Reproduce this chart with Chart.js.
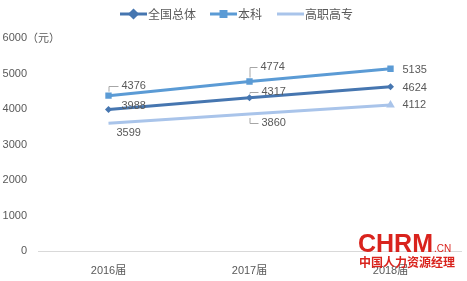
<!DOCTYPE html>
<html lang="zh">
<head>
<meta charset="UTF-8">
<title>月收入</title>
<script src="https://cdn.jsdelivr.net/npm/chart.js"></script>
<style>
    html, body { margin: 0; padding: 0; background: #fff; }
    #wrap { width: 467px; height: 281px; position: relative; }
</style>
</head>
<body>
<div id="wrap"><canvas id="lineChart"></canvas></div>
<script>
// data
const years = ['2016届', '2017届', '2018届'];
const overall = [3988, 4317, 4624];
const bachelor = [4376, 4774, 5135];
const vocational = [3599, 3860, 4112];
const yTicks = [0, 1000, 2000, 3000, 4000, 5000, 6000];

const FONT = '"Liberation Sans", "Noto Sans CJK SC", sans-serif';
const TEXT = '#595959';
const colors = ['#4676B0', '#5B9BD5', '#A9C4EA'];

// label offsets per dataset / point: [dx, dy, leader]
const labelPos = [
    [[13, -3, false], [12, -6, true], [12, 1, false]],
    [[13, -10, true], [11, -15, true], [12, 1, false]],
    [[8, 10, false], [12, 9, true], [12, 0, false]]
];

const labelPlugin = {
    id: 'labels',
    afterDatasetsDraw(chart) {
        const ctx = chart.ctx;
        ctx.save();
        ctx.font = '11px ' + FONT;
        ctx.fillStyle = TEXT;
        ctx.textBaseline = 'middle';
        chart.data.datasets.forEach((ds, i) => {
            chart.getDatasetMeta(i).data.forEach((pt, j) => {
                const [dx, dy, leader] = labelPos[i][j];
                const x = pt.x + dx, y = pt.y + dy;
                if (leader) {
                    ctx.strokeStyle = '#a6a6a6';
                    ctx.lineWidth = 1;
                    ctx.beginPath();
                    const sy = dy < 0 ? pt.y - 4 : pt.y + 4;
                    ctx.moveTo(pt.x + 0.5, sy);
                    ctx.lineTo(pt.x + 0.5, Math.round(y) + 0.5);
                    ctx.lineTo(x - 3, Math.round(y) + 0.5);
                    ctx.stroke();
                }
                ctx.textAlign = 'left';
                ctx.fillText(ds.data[j], x, y);
            });
        });
        ctx.restore();
    }
};

const legendPlugin = {
    id: 'topLegend',
    afterDraw(chart) {
        const ctx = chart.ctx;
        const items = [
            { x: 120, text: '全国总体', style: 'rectRot' },
            { x: 210, text: '本科', style: 'rect' },
            { x: 277, text: '高职高专', style: null }
        ];
        ctx.save();
        items.forEach((it, i) => {
            ctx.strokeStyle = colors[i];
            ctx.fillStyle = colors[i];
            ctx.lineWidth = 3;
            ctx.beginPath();
            ctx.moveTo(it.x, 14);
            ctx.lineTo(it.x + 27, 14);
            ctx.stroke();
            if (it.style) {
                Chart.helpers.drawPoint(ctx, { pointStyle: it.style, radius: 3.5, borderWidth: 1 }, it.x + 13.5, 14);
            }
            ctx.fillStyle = TEXT;
            ctx.font = '12px "Noto Sans CJK SC", sans-serif';
            ctx.textBaseline = 'middle';
            ctx.fillText(it.text, it.x + 28, 14);
        });

        // y tick labels, right aligned
        const ys = chart.scales.y;
        ctx.font = '11px ' + FONT;
        ctx.textAlign = 'right';
        yTicks.forEach(v => ctx.fillText(v, 27, ys.getPixelForValue(v)));
        ctx.textAlign = 'left';
        ctx.font = '11px "Noto Sans CJK SC", sans-serif';
        ctx.fillText('（元）', 27, ys.getPixelForValue(6000));

        // watermark
        ctx.fillStyle = '#D9231D';
        ctx.font = 'bold 25px "Liberation Sans", sans-serif';
        ctx.textBaseline = 'alphabetic';
        ctx.fillText('CHRM', 358, 252);
        ctx.font = '10px "Liberation Sans", sans-serif';
        ctx.fillText('.CN', 434, 252);
        ctx.font = 'bold 12px "Noto Sans CJK SC", sans-serif';
        ctx.fillText('中国人力资源经理', 359, 267);
        ctx.restore();
    }
};

new Chart(document.getElementById('lineChart').getContext('2d'), {
    type: 'line',
    data: {
        labels: years,
        datasets: [
            { label: '全国总体', data: overall, borderColor: colors[0], backgroundColor: colors[0],
              borderWidth: 3, pointStyle: 'rectRot', pointRadius: 3.5, pointBorderWidth: 0 },
            { label: '本科', data: bachelor, borderColor: colors[1], backgroundColor: colors[1],
              borderWidth: 3, pointStyle: 'rect', pointRadius: 4.5, pointBorderWidth: 0 },
            { label: '高职高专', data: vocational, borderColor: colors[2], backgroundColor: colors[2],
              borderWidth: 3, pointStyle: 'triangle', pointRadius: [0, 0, 5], pointBorderWidth: 0 }
        ]
    },
    options: {
        responsive: true,
        maintainAspectRatio: false,
        animation: false,
        layout: { padding: { top: 38, right: 6, bottom: 0, left: 0 } },
        plugins: { legend: { display: false }, tooltip: { enabled: false } },
        scales: {
            x: {
                offset: true,
                grid: { display: false },
                border: { color: '#d9d9d9' },
                ticks: { color: TEXT, font: { family: FONT, size: 11 }, padding: 5 },
                afterFit(scale) { scale.height = 30; }
            },
            y: {
                min: 0, max: 6000,
                afterBuildTicks(scale) { scale.ticks = yTicks.map(v => ({ value: v })); },
                afterFit(scale) { scale.width = 38; },
                grid: { display: false },
                border: { display: false },
                ticks: { display: false }
            }
        }
    },
    plugins: [labelPlugin, legendPlugin]
});
</script>
</body>
</html>
